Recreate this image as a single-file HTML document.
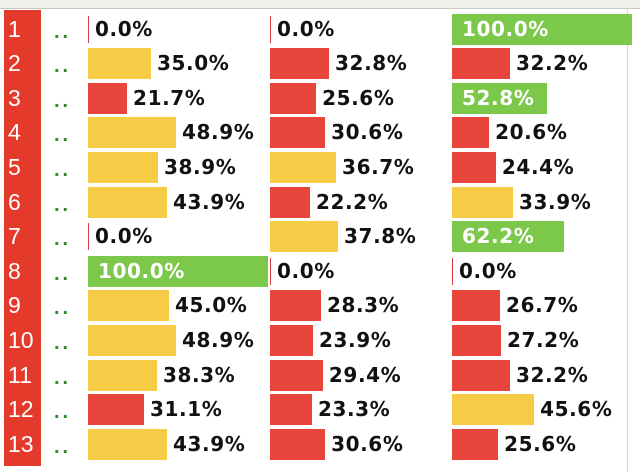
<!DOCTYPE html>
<html><head><meta charset="utf-8"><style>
body{margin:0;width:640px;height:472px;background:#fff;overflow:hidden;font-family:"Liberation Sans",sans-serif;position:relative}
.top{position:absolute;left:0;top:0;width:640px;height:8px;background:#f1f1ec;border-bottom:1px solid #c8c8c0}
.side{position:absolute;left:4px;top:10px;width:37px;height:456px;background:#e43a2b}
.rb{position:absolute;left:627px;top:9px;width:1px;height:463px;background:#d8d8d0}
.lab{position:absolute;left:8px;color:#fff;font-size:23px;font-family:"Liberation Sans",sans-serif;line-height:26px}
.dots{position:absolute;left:54px;color:#2e8b2e;font-size:20px;font-weight:bold;letter-spacing:3px;line-height:20px}
.bar{position:absolute;height:31px}
.val{position:absolute;font-size:20px;font-weight:bold;color:#111;white-space:nowrap;font-family:"DejaVu Sans","Liberation Sans",sans-serif;letter-spacing:0.6px;line-height:24px}
</style></head><body>
<div class="top"></div>
<div class="side"></div>
<div class="rb"></div>
<div id="c"></div>
<script>
const rows=["1","2","3","4","5","6","7","8","9","10","11","12","13"];
const col1=[0,35.0,21.7,48.9,38.9,43.9,0,100,45.0,48.9,38.3,31.1,43.9];
const col2=[0,32.8,25.6,30.6,36.7,22.2,37.8,0,28.3,23.9,29.4,23.3,30.6];
const col3=[100,32.2,52.8,20.6,24.4,33.9,62.2,0,26.7,27.2,32.2,45.6,25.6];
const cols=[col1,col2,col3];
const colX=[88,270,452], full=180, top0=13.5, pitch=34.6;
const c=document.getElementById('c');
function y(i){return top0+i*pitch;}
function w(v){return v/100*full;}
rows.forEach((r,i)=>{
  const l=document.createElement('div');l.className='lab';l.textContent=r;
  l.style.top=(y(i)+2)+'px';
  
  
  c.appendChild(l);
  const d=document.createElement('div');d.className='dots';d.textContent='..';
  d.style.top=(y(i)+8)+'px';
  
  
  c.appendChild(d);
  cols.forEach((arr,j)=>{
    const v=arr[i];
    const b=document.createElement('div');b.className='bar';
    const bw=Math.max(1,w(v));
    b.style.left=colX[j]+'px';b.style.top=y(i)+'px';b.style.width=bw+'px';
    b.style.background=v>50?'#7cc84a':(v>=33.5?'#f6cb46':'#e8463d');
    if(v==0){b.style.background='#d84040';b.style.top=(y(i)+2)+'px';b.style.height='27px';}
    
    
    c.appendChild(b);
    const t=document.createElement('div');t.className='val';t.textContent=v.toFixed(1)+'%';
    t.style.top=(y(i)+3)+'px';
    if(v>50){t.style.left=(colX[j]+10)+'px';t.style.color='#fff';}
    else t.style.left=(colX[j]+bw+6)+'px';
    
    
    c.appendChild(t);
  });
});
</script>
</body></html>
